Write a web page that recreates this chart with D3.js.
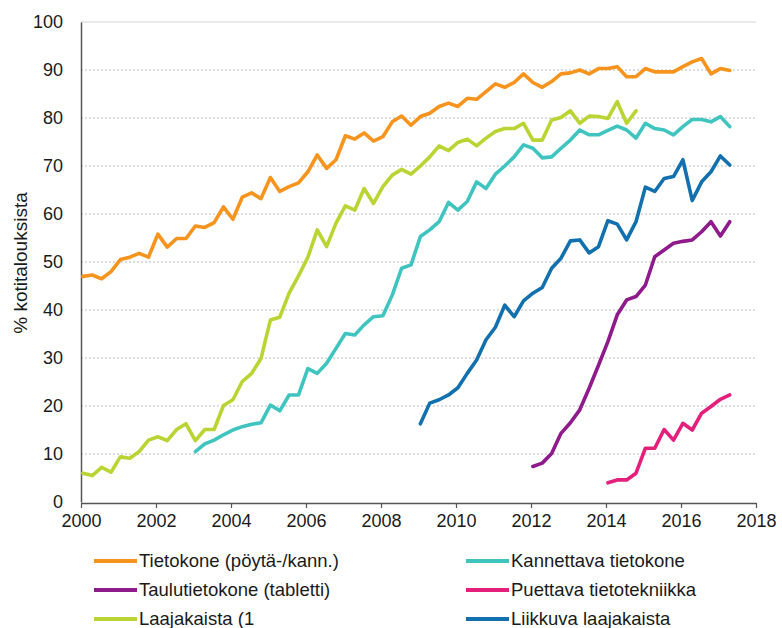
<!DOCTYPE html>
<html>
<head>
<meta charset="utf-8">
<script src="https://cdn.jsdelivr.net/npm/d3@7"></script>
<style>
  html, body { margin: 0; padding: 0; background: #fff; }
  svg { display: block; font-family: "Liberation Sans", Arial, sans-serif; }
</style>
</head>
<body>
<svg id="chart" width="782" height="628"></svg>
<script>
// ---- Data (quarterly, % of households) ----
const seriesNames = [
  "Tietokone (pöytä-/kann.)",
  "Kannettava tietokone",
  "Taulutietokone (tabletti)",
  "Puettava tietotekniikka",
  "Laajakaista (1",
  "Liikkuva laajakaista"
];
const seriesColors = ["#f7941e", "#3fc4c0", "#8e1a8c", "#e5207c", "#b9d433", "#1170ad"];
const seriesStart = [2000, 2003, 2012, 2014, 2000, 2009];

const tietokone = [
  47, 47.3, 46.5, 48,
  50.5, 51, 51.8, 51,
  55.8, 53.1, 54.9, 54.9,
  57.5, 57.2, 58.2, 61.5,
  58.9, 63.5, 64.4, 63.2,
  67.6, 64.7, 65.7, 66.5,
  68.8, 72.3, 69.5, 71.3,
  76.3, 75.6, 76.9, 75.2,
  76.1, 79.2, 80.4, 78.5,
  80.3, 81, 82.4, 83.1,
  82.4, 84.1, 83.9, 85.5,
  87.1, 86.4, 87.4, 89.2,
  87.4, 86.4, 87.6, 89.2,
  89.4, 90, 89.2, 90.3,
  90.3, 90.7, 88.6, 88.6,
  90.3, 89.6, 89.6, 89.6,
  90.7, 91.7, 92.4, 89.2,
  90.3, 89.9
];
const kannettava = [
  10.5, 12.1, 12.9, 14.0,
  15.0, 15.7, 16.2, 16.5,
  20.2, 19.0, 22.3, 22.3,
  27.8, 26.8, 28.9, 32.0,
  35.1, 34.8, 36.9, 38.6,
  38.8, 43.1, 48.7, 49.4,
  55.3, 56.7, 58.4, 62.4,
  60.8, 62.6, 66.7, 65.3,
  68.3, 70, 71.9, 74.4,
  73.7, 71.7, 71.9, 73.7,
  75.4, 77.5, 76.5, 76.5,
  77.4, 78.3, 77.5, 75.8,
  78.9, 77.8, 77.5, 76.5,
  78.2, 79.7, 79.7, 79.2,
  80.3, 78.2
];
const taulutietokone = [
  7.4, 8.1, 10.1, 14.3,
  16.5, 19.2, 23.7, 28.5,
  33.4, 39.0, 42.1, 42.8,
  45.2, 51.1, 52.5, 53.9,
  54.3, 54.6, 56.3, 58.4,
  55.4, 58.4
];
const puettava = [
  4.0, 4.6, 4.6, 6.0,
  11.2, 11.2, 15.1, 12.9,
  16.4, 15.0, 18.5, 19.9,
  21.4, 22.3
];
const laajakaista = [
  6.0, 5.5, 7.2, 6.2,
  9.4, 9.1, 10.5, 12.9,
  13.6, 12.8, 15.1, 16.3,
  12.8, 15.1, 15.1, 20.1,
  21.3, 25.1, 26.8, 29.9,
  37.9, 38.5, 43.5, 47.1,
  51.0, 56.7, 53.2, 58.1,
  61.7, 60.8, 65.3, 62.2,
  65.7, 68.1, 69.3, 68.3,
  70, 71.9, 74.2, 73.2,
  74.9, 75.6, 74.2, 75.8,
  77.2, 77.8, 77.8, 78.9,
  75.4, 75.4, 79.6, 80.1,
  81.5, 78.9, 80.4, 80.3,
  79.9, 83.4, 78.9, 81.5
];
const liikkuva = [
  16.3, 20.6, 21.3, 22.3,
  23.8, 26.8, 29.6, 33.8,
  36.4, 41.0, 38.6, 41.9,
  43.5, 44.7, 48.7, 50.8,
  54.4, 54.6, 51.9, 53.2,
  58.6, 57.9, 54.6, 58.4,
  65.6, 64.7, 67.4, 67.8,
  71.3, 62.8, 66.7, 68.8,
  72.1, 70.2
];
const seriesValues = [tietokone, kannettava, taulutietokone, puettava, laajakaista, liikkuva];

const xTicks = [2000, 2002, 2004, 2006, 2008, 2010, 2012, 2014, 2016, 2018];
const yTicks = [0, 10, 20, 30, 40, 50, 60, 70, 80, 90, 100];
const yTitle = "% kotitalouksista";

// ---- Layout ----
const svg = d3.select("#chart");
const plotLeft = 81, plotRight = 756, plotTop = 22, plotBottom = 502;
const x = d3.scaleLinear().domain([2000, 2018]).range([plotLeft, plotRight]);
const y = d3.scaleLinear().domain([0, 100]).range([plotBottom, plotTop]);
const textColor = "#1a1a1a";
const tickFont = 18;
const legendFont = 18.5;
const titleFont = 19;

// Gridlines
svg.append("g").selectAll("line")
  .data(yTicks.filter(d => d > 0))
  .join("line")
  .attr("x1", plotLeft).attr("x2", plotRight)
  .attr("y1", d => y(d)).attr("y2", d => y(d))
  .attr("stroke", d => d === 100 ? "#d4d4d4" : "#b8b8c4")
  .attr("stroke-width", 1)
  .attr("stroke-dasharray", d => d === 100 ? null : "2,2");

// Y axis labels
const yAxis = d3.axisLeft(y).tickValues(yTicks).tickSize(0).tickPadding(18);
const gy = svg.append("g").attr("transform", `translate(${plotLeft},0)`).call(yAxis);
gy.select(".domain").attr("stroke", "#555").attr("stroke-width", 1.5);
gy.selectAll("text").attr("font-size", tickFont).attr("fill", textColor)
  .attr("font-family", "Liberation Sans, Arial, sans-serif");

// X axis
const xAxis = d3.axisBottom(x).tickValues(xTicks).tickFormat(d3.format("d")).tickSize(5).tickSizeOuter(0).tickPadding(6);
const gx = svg.append("g").attr("transform", `translate(0,${plotBottom + 1})`).call(xAxis);
gx.select(".domain").attr("stroke", "#555").attr("stroke-width", 1.5);
gx.selectAll(".tick line").attr("stroke", "#555").attr("stroke-width", 1.2);
gx.selectAll("text").attr("font-size", tickFont).attr("fill", textColor)
  .attr("font-family", "Liberation Sans, Arial, sans-serif");

// Y title
svg.append("text")
  .attr("transform", `translate(20,263) rotate(-90)`)
  .attr("text-anchor", "middle")
  .attr("dy", "0.35em")
  .attr("font-size", titleFont)
  .attr("fill", textColor)
  .text(yTitle);

// Lines
const offset = 0.05;
const line = d3.line().x(d => x(d.t)).y(d => y(d.v)).curve(d3.curveLinear);
const drawOrder = [0, 1, 2, 3, 4, 5];
drawOrder.forEach(i => {
  const pts = seriesValues[i].map((v, k) => ({ t: seriesStart[i] + k * 0.25 + offset, v }));
  svg.append("path")
    .datum(pts)
    .attr("d", line)
    .attr("fill", "none")
    .attr("stroke", seriesColors[i])
    .attr("stroke-width", 3.6)
    .attr("stroke-linejoin", "round")
    .attr("stroke-linecap", "round");
});

// Legend
const legendPos = [
  { x: 94, y: 561 }, { x: 466, y: 561 },
  { x: 94, y: 590 }, { x: 466, y: 590 },
  { x: 94, y: 619 }, { x: 466, y: 619 }
];
const lg = svg.append("g");
seriesNames.forEach((name, i) => {
  const p = legendPos[i];
  lg.append("line")
    .attr("x1", p.x).attr("x2", p.x + 43)
    .attr("y1", p.y).attr("y2", p.y)
    .attr("stroke", seriesColors[i]).attr("stroke-width", 4);
  lg.append("text")
    .attr("x", p.x + 45).attr("y", p.y)
    .attr("dy", "0.35em")
    .attr("font-size", legendFont)
    .attr("fill", textColor)
    .text(name);
});
</script>
</body>
</html>
